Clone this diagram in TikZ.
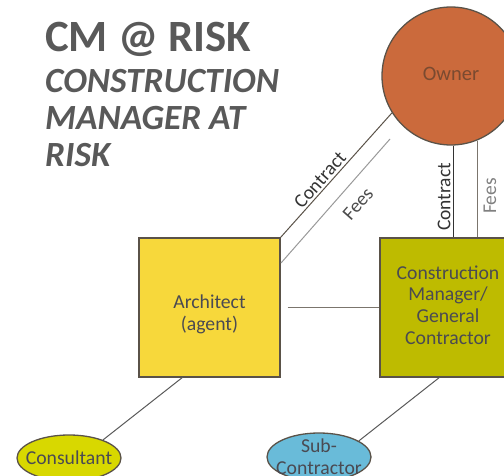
\documentclass[tikz,border=0pt]{standalone}
\usepackage{fontspec}
\setmainfont{Carlito}
\usetikzlibrary{shapes.geometric,calc}
\definecolor{titlegray}{HTML}{595959}
\definecolor{txtgray}{HTML}{4A4A52}
\definecolor{ownerfill}{HTML}{CB6A3C}
\definecolor{ownertxt}{HTML}{7A4A30}
\definecolor{archfill}{HTML}{F7D83B}
\definecolor{cmfill}{HTML}{BEBB00}
\definecolor{consfill}{HTML}{D8D800}
\definecolor{subfill}{HTML}{69BBD9}
\definecolor{edgegray}{HTML}{5A5248}
\begin{document}
\begin{tikzpicture}[x=1pt,y=-1pt,
  shapebox/.style={draw=edgegray,line width=1.3pt,inner sep=0pt,text=txtgray,font=\fontsize{19.7}{21.8}\selectfont,align=center},
  lbl/.style={font=\fontsize{19.5}{21.5}\selectfont,inner sep=0pt},
  ttl/.style={anchor=base west,inner sep=0pt,text=titlegray}]
\useasboundingbox (0,0) rectangle (504,476);
\clip (0,0) rectangle (504,476);
% title
\node[ttl,font=\fontsize{44.7}{44.7}\bfseries\selectfont] (t1) at (45,52) {CM @ RISK};
\node[ttl,font=\fontsize{35.4}{35.4}\bfseries\itshape\selectfont] (t2) at (45,93) {CONSTRUCTION};
\node[ttl,font=\fontsize{35.4}{35.4}\bfseries\itshape\selectfont] (t3) at (45,130) {MANAGER AT};
\node[ttl,font=\fontsize{35.4}{35.4}\bfseries\itshape\selectfont] (t4) at (45,167) {RISK};
% shapes
\node[shapebox,circle,fill=ownerfill,text=ownertxt,minimum size=138pt,font=\fontsize{20.5}{22}\selectfont] (owner) at (451,76) {\raisebox{4pt}{Owner}};
\node[shapebox,rectangle,fill=archfill,minimum width=141pt,minimum height=139pt] (arch) at (209.5,307.5) {};
\node[shapebox,draw=none,text=txtgray] (archtxt) at ($(arch.center)+(0,7)$) {Architect\\(agent)};
\node[shapebox,rectangle,fill=cmfill,minimum width=136pt,minimum height=139pt] (cm) at (448,307.5) {\raisebox{4pt}{\begin{tabular}{@{}c@{}}Construction\\Manager/\\General\\Contractor\end{tabular}}};
\node[shapebox,ellipse,fill=consfill,inner xsep=-8pt,minimum width=104pt,minimum height=46pt] (cons) at (69,458) {Consultant};
\node[shapebox,ellipse,fill=subfill,inner xsep=-8pt,inner ysep=-6pt,minimum width=104pt,minimum height=48pt] (sub) at (319,457) {Sub-\\Contractor};
% coordinates for free ends
\coordinate (feesA) at (390,139);
\coordinate (feesB) at (281,263);
\coordinate (archC) at (183,377);
\coordinate (cmS) at (440,377);
% connectors
\draw[edgegray,line width=1pt] (owner.212) -- (arch.north east);
\draw[gray!80,line width=1pt] (feesA) -- (feesB);
\draw[black!80,line width=1pt] (owner.south) ++(2,0) coordinate (cv) -- (cv |- cm.north);
\draw[edgegray!80,line width=0.9pt] (owner.292) -- (owner.292 |- cm.north);
\draw[edgegray!80,line width=1pt,shorten <=7pt] (arch.east) -- (cm.west);
\draw[black!65,line width=1pt] (archC) -- (cons.28);
\draw[black!65,line width=1pt] (cmS) -- (sub.22);
% labels
\node[lbl,text=black!80,rotate=48.5] (lc) at (320,180) {Contract};
\node[lbl,text=black!70,rotate=48.5] (lf) at (358,204) {Fees};
\node[lbl,text=black!80,rotate=90] (vc) at (444,197) {Contract};
\node[lbl,text=gray,rotate=90] (vf) at (490,196) {Fees};
\end{tikzpicture}
\end{document}
